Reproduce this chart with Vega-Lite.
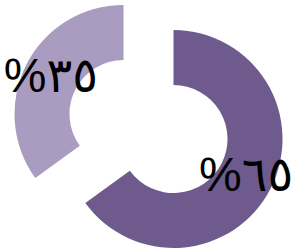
{
  "$schema": "https://vega.github.io/schema/vega-lite/v6.json",
  "width": 293,
  "height": 248,
  "autosize": {"type": "fit", "contains": "padding"},
  "padding": 0,
  "background": "white",
  "view": {"stroke": null},
  "data": {
    "values": [
      {"k": "a", "v": 65, "t": "%٦٥"},
      {"k": "b", "v": 35, "t": "%٣٥"}
    ]
  },
  "encoding": {
    "theta": {"field": "v", "type": "quantitative", "stack": true},
    "order": {"field": "k", "type": "ordinal", "sort": "ascending"},
    "detail": {"field": "k"}
  },
  "layer": [
    {
      "mark": {"type": "arc", "outerRadius": 109, "innerRadius": 54, "xOffset": 27.5, "yOffset": 15},
      "encoding": {
        "color": {"field": "k", "type": "nominal", "scale": {"domain": ["a", "b"], "range": ["#6f5a8e", "#a99cc0"]}, "legend": null},
        "opacity": {"condition": {"test": "datum.k === 'a'", "value": 1}, "value": 0}
      }
    },
    {
      "mark": {"type": "arc", "outerRadius": 109, "innerRadius": 54, "xOffset": -22.5, "yOffset": -10},
      "encoding": {
        "color": {"field": "k", "type": "nominal", "scale": {"domain": ["a", "b"], "range": ["#6f5a8e", "#a99cc0"]}, "legend": null},
        "opacity": {"condition": {"test": "datum.k === 'b'", "value": 1}, "value": 0}
      }
    },
    {
      "mark": {"type": "text", "radius": 81.5, "xOffset": 27.5, "yOffset": 16, "fontSize": 48, "font": "Liberation Sans, DejaVu Sans", "fill": "black"},
      "encoding": {
        "text": {"field": "t"},
        "opacity": {"condition": {"test": "datum.k === 'a'", "value": 1}, "value": 0}
      }
    },
    {
      "mark": {"type": "text", "radius": 81.5, "xOffset": -22.5, "yOffset": -9, "fontSize": 48, "font": "Liberation Sans, DejaVu Sans", "fill": "black"},
      "encoding": {
        "text": {"field": "t"},
        "opacity": {"condition": {"test": "datum.k === 'b'", "value": 1}, "value": 0}
      }
    }
  ]
}
